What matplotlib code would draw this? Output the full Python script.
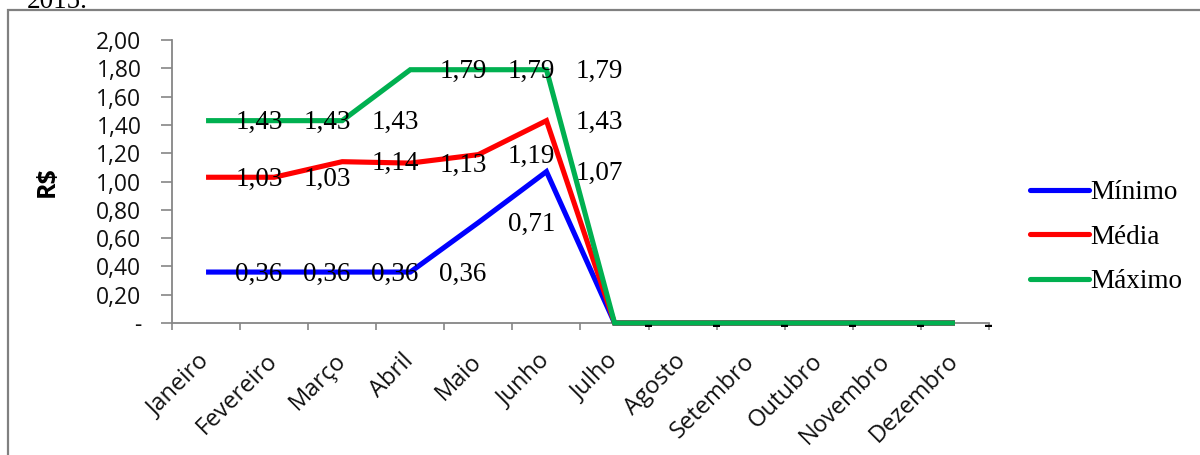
import matplotlib
matplotlib.use('Agg')
import matplotlib.pyplot as plt
import numpy as np
from matplotlib.patches import Rectangle

months = ['Janeiro', 'Fevereiro', 'Março', 'Abril', 'Maio', 'Junho', 'Julho',
          'Agosto', 'Setembro', 'Outubro', 'Novembro', 'Dezembro']
minimo = [0.36, 0.36, 0.36, 0.36, 0.71, 1.07, 0, 0, 0, 0, 0, 0]
media = [1.03, 1.03, 1.14, 1.13, 1.19, 1.43, 0, 0, 0, 0, 0, 0]
maximo = [1.43, 1.43, 1.43, 1.79, 1.79, 1.79, 0, 0, 0, 0, 0, 0]
series_names = ['Mínimo', 'Média', 'Máximo']
yticks = [0, 0.2, 0.4, 0.6, 0.8, 1.0, 1.2, 1.4, 1.6, 1.8, 2.0]

colors = ['#0000FF', '#FF0000', '#00B050']
SERIF = 'Liberation Serif'
SANS = 'Open Sans'


def fmt(v):
    return '-' if v == 0 else f'{v:.2f}'.replace('.', ',')


W, H = 1200, 455
fig = plt.figure(figsize=(W / 100, H / 100), dpi=100)
ax = fig.add_axes([172 / W, 1 - 323 / H, (989 - 172) / W, (323 - 40) / H])

x = np.arange(len(months))
lines = []
for vals, c, name in zip([minimo, media, maximo], colors, series_names):
    ln, = ax.plot(x, vals, color=c, lw=3.7, label=name, clip_on=False,
                  solid_joinstyle='miter', solid_capstyle='butt', zorder=3)
    lines.append(ln)

for vals in [minimo, media, maximo]:
    for i, v in enumerate(vals):
        ax.annotate(fmt(v), (i, v), xytext=(21, -1.5), textcoords='offset points',
                    ha='left', va='center', fontsize=19.5, family=SERIF,
                    color='black', zorder=5, annotation_clip=False)

ax.set_xlim(-0.5, 11.5)
ax.set_ylim(0, 2)

gray = '#868686'
for s in ['top', 'right']:
    ax.spines[s].set_visible(False)
for s in ['left', 'bottom']:
    ax.spines[s].set_color(gray)
    ax.spines[s].set_linewidth(1.3)

ax.set_yticks(yticks)
ax.set_yticklabels([fmt(v) for v in yticks], family=SANS, fontsize=16.5, color='#111111')
ax.tick_params(axis='y', length=8, width=1.2, color=gray, pad=14, direction='out')

ax.set_xticks(x)
ax.set_xticklabels(months, rotation=45, ha='right', va='center',
                   rotation_mode='anchor', family=SANS, fontsize=17, color='#111111')
ax.tick_params(axis='x', which='major', length=0, pad=25)
ax.set_xticks(np.arange(-0.5, 12, 1), minor=True)
ax.tick_params(axis='x', which='minor', length=5, width=1.2, color=gray, direction='out')

ax.set_ylabel('R$', family=SANS, fontsize=18, fontweight='bold')
ax.yaxis.set_label_coords(-(172 - 60) / (989 - 172), 0.5)

leg = ax.legend(handles=lines, loc='center left', bbox_to_anchor=(1006 / W, 1 - 237 / H),
                bbox_transform=fig.transFigure, frameon=False, prop={'family': SERIF, 'size': 19.5},
                handlelength=2.15, handletextpad=0.08, labelspacing=0.72)
for lh in leg.get_lines():
    lh.set_linewidth(3.7)
    lh.set_solid_capstyle('round')

fig.add_artist(Rectangle((8 / W, -0.05), 1.2, 1.05 - 10 / H, transform=fig.transFigure,
                         fill=False, edgecolor='#808080', lw=1.6))
fig.text(27 / W, 1 - 8 / H, '2015.', family=SERIF, fontsize=19.5, va='baseline', ha='left')

fig.savefig('out.png', dpi=100)
